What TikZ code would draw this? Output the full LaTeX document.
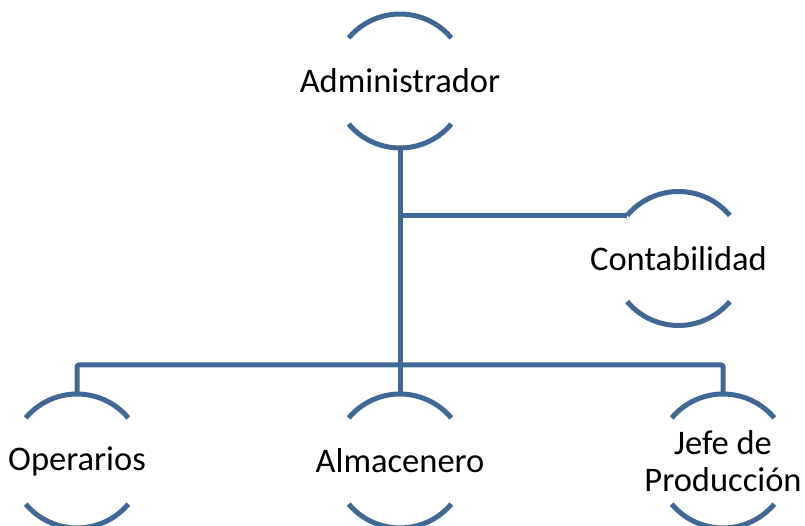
\documentclass[tikz,border=0pt]{standalone}
\usepackage{fontspec}
\setmainfont{Carlito}
\usepackage{xcolor}
\definecolor{ringblue}{RGB}{63,104,150}

\begin{document}
\begin{tikzpicture}[x=1pt, y=1pt,
    unit/.style={circle, minimum size=134pt, inner sep=0pt, outer sep=0pt},
    title/.style={align=center, inner sep=0pt, font=\fontsize{34.5}{37}\selectfont},
    ring/.style={draw=ringblue, line width=5pt},
    link/.style={draw=ringblue, line width=5pt, rounded corners=2pt}]
  \useasboundingbox (0,0) rectangle (805,526);

  % positions
  \node[unit] (adm)  at (400,445)     {};
  \node[unit] (cont) at (678.5,267.5) {};
  \node[unit] (ops)  at (77,65)       {};
  \node[unit] (alm)  at (400,65)      {};
  \node[unit] (jefe) at (723,65)      {};

  % titles
  \node[title] (adm-t)  at (adm)  {Administrador};
  \node[title] (cont-t) at (cont) {Contabilidad};
  \node[title] (ops-t)  at (ops)  {Operarios};
  \node[title] (alm-t)  at (alm)  {Almacenero};
  \node[title] (jefe-t) at (jefe) {Jefe de\\Producción};

  % the two half rings round each title
  \foreach \n in {adm,cont,ops,alm,jefe} {
    \draw[ring] (\n.140) arc[start angle=140, end angle=40, radius=67pt];
    \draw[ring] (\n.220) arc[start angle=220, end angle=320, radius=67pt];
  }

  % connectors
  \coordinate (bus) at (adm.south |- 0,161);
  \draw[link] (adm.south) -- (bus);
  \draw[link] (adm.south |- cont.140) -- (cont.140);
  \draw[link] (ops.north) -- (ops.north |- bus) -- (jefe.north |- bus) -- (jefe.north);
  \draw[link] (bus) -- (alm.north);
\end{tikzpicture}
\end{document}
